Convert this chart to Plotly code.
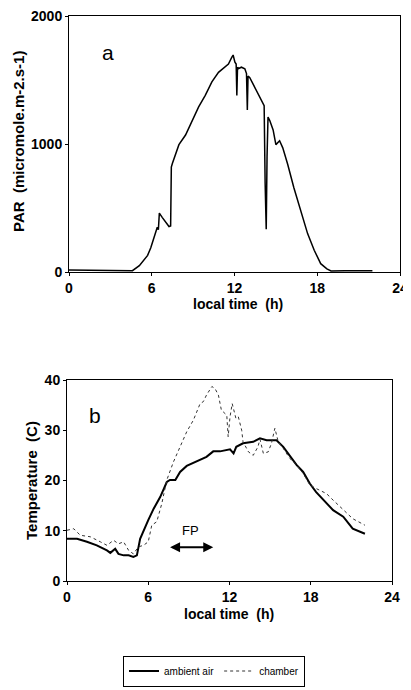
import plotly.graph_objects as go

# ---- Panel a: PAR ----
par_time = [0, 2, 4, 4.6, 5.1, 5.7, 5.93, 6.17, 6.3, 6.4, 6.48, 6.55, 6.77, 7.0, 7.25, 7.37,
            7.42, 7.5, 7.73, 7.97, 8.45, 8.93, 9.4, 9.88, 10.36, 10.84, 11.3, 11.56, 11.8, 11.9,
            12.03, 12.12, 12.17, 12.22, 12.3, 12.5, 12.75, 12.87, 12.93, 12.98, 13.1, 13.35, 13.7,
            13.95, 14.15, 14.22, 14.3, 14.36, 14.43, 14.55, 14.8, 15.0, 15.27, 15.5, 15.86, 16.3,
            16.8, 17.3, 17.78, 18.25, 18.7, 19.0, 20, 21, 22]
par_values = [15, 12, 10, 10, 50, 130, 190, 270, 320, 350, 330, 460, 425, 390, 355, 360,
              820, 850, 915, 995, 1070, 1175, 1290, 1380, 1485, 1560, 1600, 1625, 1677, 1695,
              1640, 1625, 1380, 1600, 1590, 1600, 1587, 1550, 1265, 1530, 1520, 1470, 1395,
              1340, 1300, 700, 335, 900, 1210, 1185, 1110, 995, 1025, 970, 840, 660,
              480, 300, 170, 65, 25, 8, 10, 12, 10]

# ---- Panel b: Temperature ----
amb_time = [0, 0.74, 1.47, 2.2, 2.95, 3.2, 3.56, 3.8, 4.18, 4.55, 4.9, 5.16, 5.4, 5.65, 6.0,
            6.4, 6.88, 7.37, 7.6, 8.0, 8.35, 8.84, 9.33, 9.83, 10.3, 10.8, 11.3, 12.04, 12.3,
            12.5, 13.0, 13.75, 14.25, 14.74, 15.47, 15.97, 16.45, 16.95, 17.44, 17.93, 18.4,
            19.16, 19.65, 20.4, 21.1, 22.0]
amb_values = [8.4, 8.4, 7.8, 7.1, 6.1, 5.6, 6.4, 5.4, 5.1, 5.1, 4.8, 5.1, 8.4, 9.8, 12.1,
              14.4, 16.7, 19.7, 20.1, 20.1, 21.7, 22.9, 23.5, 24.1, 24.7, 25.8, 25.8, 26.2, 25.4,
              26.7, 27.4, 27.7, 28.4, 28.0, 28.0, 26.7, 25.0, 23.1, 21.7, 19.4, 17.7,
              15.4, 14.1, 12.8, 10.4, 9.4]

ch_time = [0, 0.5, 0.98, 1.72, 2.46, 2.95, 3.44, 3.8, 4.18, 4.55, 4.9, 5.28, 5.65, 6.0, 6.26,
           6.63, 7.0, 7.37, 7.86, 8.35, 8.84, 9.33, 9.83, 10.07, 10.3, 10.7, 10.93, 11.18, 11.4,
           11.8, 11.9, 12.04, 12.2, 12.47, 12.65, 12.9, 13.0, 13.4, 13.75, 14.1, 14.25, 14.5,
           14.86, 15.1, 15.35, 15.6, 15.97, 16.45, 16.95, 17.44, 17.93, 18.4, 19.16, 19.65,
           20.4, 21.1, 22.0]
ch_values = [10.1, 10.4, 9.1, 8.8, 7.8, 7.1, 8.1, 7.4, 7.8, 6.1, 5.4, 6.8, 7.1, 7.8, 11.1,
             11.8, 15.4, 20.1, 23.7, 26.7, 29.7, 32.0, 35.3, 35.7, 37.0, 38.7, 38.3, 37.0, 34.0,
             33.0, 28.7, 32.7, 35.3, 32.4, 32.7, 30.0, 27.7, 25.7, 25.0, 26.7, 28.2, 25.4,
             25.7, 27.4, 30.4, 27.7, 26.4, 24.4, 23.1, 21.4, 19.1, 18.4, 17.4, 16.1,
             14.1, 12.4, 11.1]

x_ticks = [0, 6, 12, 18, 24]
par_ticks = [0, 1000, 2000]
temp_ticks = [0, 10, 20, 30, 40]

# the page body has an 8px margin: size the figure to fill the rest of the window
OFF = 8
W, H = 411 - OFF, 690 - OFF
FONT = "Liberation Sans"

fig = go.Figure()
fig.add_trace(go.Scatter(x=par_time, y=par_values, mode="lines", xaxis="x", yaxis="y",
                         line=dict(color="black", width=1.5), showlegend=False))
fig.add_trace(go.Scatter(x=amb_time, y=amb_values, mode="lines", xaxis="x2", yaxis="y2",
                         name="ambient air", line=dict(color="black", width=2)))
fig.add_trace(go.Scatter(x=ch_time, y=ch_values, mode="lines", xaxis="x2", yaxis="y2",
                         name="chamber", line=dict(color="#333333", width=1, dash="dot")))

tickfont = dict(family=FONT, size=14, color="black")
common = dict(showline=True, linecolor="black", linewidth=1, mirror=True, ticks="outside",
              ticklen=3, tickcolor="black", showgrid=False, zeroline=False, tickfont=tickfont,
              automargin=False, ticklabeloverflow="allow")


def bold(vals):
    return ["<b>%s</b>" % v for v in vals]


def px_x(p):
    return (p - OFF) / W


def px_y(p):
    return 1 - (p - OFF) / H


fig.update_layout(
    width=W, height=H, margin=dict(l=0, r=0, t=0, b=0, autoexpand=False),
    paper_bgcolor="white", plot_bgcolor="white",
    font=dict(family=FONT, color="black"),
    xaxis=dict(domain=[px_x(69), px_x(400)], range=[0, 24], tickvals=x_ticks,
               ticktext=bold(x_ticks), anchor="y", **common),
    yaxis=dict(domain=[px_y(272), px_y(16)], range=[0, 2000], tickvals=par_ticks,
               ticktext=bold(par_ticks), anchor="x", **common),
    xaxis2=dict(domain=[px_x(67), px_x(392)], range=[0, 24], tickvals=x_ticks,
                ticktext=bold(x_ticks), anchor="y2", **common),
    yaxis2=dict(domain=[px_y(581), px_y(380)], range=[0, 40], tickvals=temp_ticks,
                ticktext=bold(temp_ticks), anchor="x2", **common),
    legend=dict(orientation="h", x=px_x(214), xanchor="center", y=px_y(671), yanchor="middle",
                bordercolor="black", borderwidth=1, bgcolor="white",
                font=dict(family=FONT, size=10, color="black"),
                itemwidth=30, tracegroupgap=0),
)

title_font = dict(family=FONT, size=14, color="black")
ytitle_font = dict(family=FONT, size=15, color="black")
annotations = [
    dict(text="<b>local time  (h)</b>", x=px_x(238), y=px_y(304), xref="paper", yref="paper",
         xanchor="center", yanchor="middle", showarrow=False, font=title_font),
    dict(text="<b>local time  (h)</b>", x=px_x(229), y=px_y(614), xref="paper", yref="paper",
         xanchor="center", yanchor="middle", showarrow=False, font=title_font),
    dict(text="<b>PAR  (micromole.m-2.s-1)</b>", x=px_x(18), y=px_y(142), xref="paper",
         yref="paper", xanchor="center", yanchor="middle", showarrow=False, textangle=-90,
         font=ytitle_font),
    dict(text="<b>Temperature  (C)</b>", x=px_x(31), y=px_y(481), xref="paper", yref="paper",
         xanchor="center", yanchor="middle", showarrow=False, textangle=-90, font=ytitle_font),
    dict(text="a", x=2.8, y=1714, xref="x", yref="y", showarrow=False,
         font=dict(family=FONT, size=21, color="black")),
    dict(text="b", x=2.1, y=33, xref="x2", yref="y2", showarrow=False,
         font=dict(family=FONT, size=21, color="black")),
    dict(text="FP", x=9.1, y=10.0, xref="x2", yref="y2", showarrow=False,
         font=dict(family=FONT, size=13, color="black")),
    dict(text="", x=10.8, y=6.7, ax=7.5, ay=6.7, xref="x2", yref="y2", axref="x2", ayref="y2",
         showarrow=True, arrowhead=2, arrowside="end+start", arrowsize=1, arrowwidth=2,
         arrowcolor="black"),
]
fig.update_layout(annotations=annotations)

fig.write_html("out.html")
